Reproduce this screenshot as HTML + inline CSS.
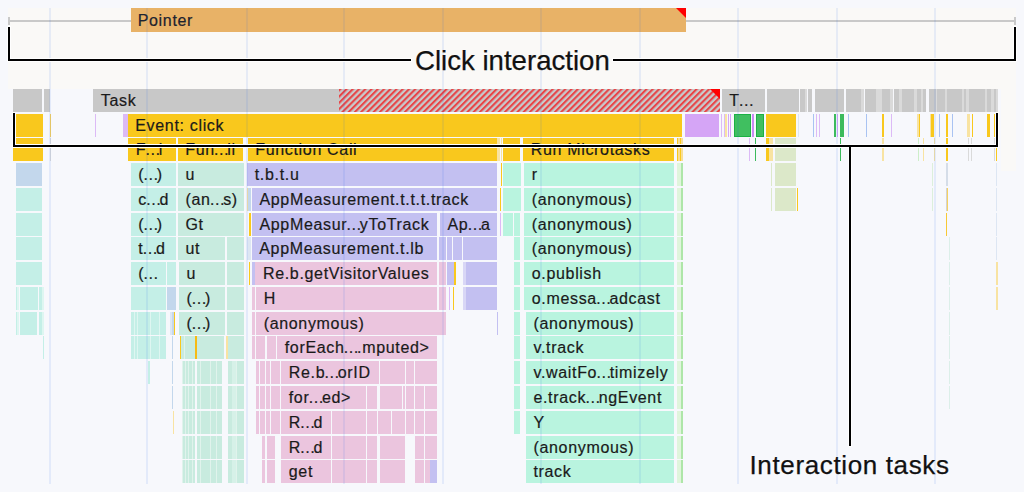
<!DOCTYPE html>
<html><head><meta charset="utf-8"><style>
*{margin:0;padding:0;box-sizing:border-box}
html,body{width:1024px;height:492px;overflow:hidden;background:#f7f8fc}
body{position:relative;font-family:"Liberation Sans",Arial,sans-serif}
.a{position:absolute}
.b{position:absolute;height:23px;font-size:16px;letter-spacing:.67px;color:#1a1a1a;line-height:24px;padding-left:7.75px;white-space:nowrap;overflow:hidden;-webkit-text-stroke:.2px #1a1a1a}
.gl{position:absolute;top:8px;width:2px;height:476px;background:rgba(30,100,230,.09)}
.wt{position:absolute;background:#000;box-shadow:0 0 0 1px #fff}
i{font-style:normal;letter-spacing:-2px;margin-left:-1.5px}
.lbl{position:absolute;font-size:27px;color:#111;white-space:nowrap;line-height:30px;-webkit-text-stroke:.25px #111}
</style></head><body>
<!-- interaction track bg -->
<div class="a" style="left:8px;top:8px;width:1008px;height:80.5px;background:#faf9f7"></div>
<div class="a" style="left:1001px;top:88px;width:14.5px;height:82.5px;background:#faf9f7"></div>

<!-- Pointer interaction -->
<div class="a" style="left:9px;top:19.6px;width:1006px;height:2px;background:#c9c9c9"></div>
<div class="a" style="left:8px;top:16.7px;width:2px;height:8px;background:#c9c9c9"></div>
<div class="a" style="left:1014px;top:16.7px;width:2px;height:8px;background:#c9c9c9"></div>
<div class="b" style="left:130.5px;top:8.2px;height:23.4px;width:555.5px;background:#e8b267;color:#1d2433;padding-left:7.2px;line-height:26px">Pointer</div>
<div class="a" style="left:676px;top:8.2px;width:0;height:0;border-top:10px solid #f00;border-left:10px solid transparent"></div>

<div class="a" style="left:12.70px;top:88.75px;width:29.30px;background:#c8c8c8;height:23px"></div>
<div class="a" style="left:43.60px;top:88.75px;width:6.00px;background:#c8c8c8;height:23px"></div>
<div class="b" style="left:93.00px;top:88.75px;width:246.00px;background:#c8c8c8">Task</div>
<div class="b" style="left:721.50px;top:88.75px;width:43.50px;background:#c8c8c8">T<i>…</i></div>
<div class="a" style="left:766.90px;top:88.75px;width:31.85px;background:#c8c8c8;height:23px"></div>
<div class="a" style="left:800.25px;top:88.75px;width:4.75px;background:#c8c8c8;height:23px"></div>
<div class="a" style="left:808.30px;top:88.75px;width:3.50px;background:#c8c8c8;height:23px"></div>
<div class="a" style="left:814.60px;top:88.75px;width:29.60px;background:#c8c8c8;height:23px"></div>
<div class="a" style="left:845.50px;top:88.75px;width:15.50px;background:#c8c8c8;height:23px"></div>
<div class="a" style="left:864.60px;top:88.75px;width:11.40px;background:#c8c8c8;height:23px"></div>
<div class="a" style="left:882.00px;top:88.75px;width:8.40px;background:#c8c8c8;height:23px"></div>
<div class="a" style="left:893.60px;top:88.75px;width:5.40px;background:#c8c8c8;height:23px"></div>
<div class="a" style="left:902.00px;top:88.75px;width:12.00px;background:#c8c8c8;height:23px"></div>
<div class="a" style="left:917.00px;top:88.75px;width:4.00px;background:#c8c8c8;height:23px"></div>
<div class="a" style="left:923.00px;top:88.75px;width:3.00px;background:#c8c8c8;height:23px"></div>
<div class="a" style="left:928.50px;top:88.75px;width:7.00px;background:#c8c8c8;height:23px"></div>
<div class="a" style="left:937.00px;top:88.75px;width:8.00px;background:#c8c8c8;height:23px"></div>
<div class="a" style="left:946.50px;top:88.75px;width:15.50px;background:#c8c8c8;height:23px"></div>
<div class="a" style="left:963.50px;top:88.75px;width:2.50px;background:#c8c8c8;height:23px"></div>
<div class="a" style="left:969.00px;top:88.75px;width:16.00px;background:#c8c8c8;height:23px"></div>
<div class="a" style="left:987.00px;top:88.75px;width:4.00px;background:#c8c8c8;height:23px"></div>
<div class="a" style="left:994.00px;top:88.75px;width:2.00px;background:#c8c8c8;height:23px"></div>
<div class="a" style="left:805.00px;top:88.75px;width:2.00px;background:#dadada;height:23px"></div>
<div class="a" style="left:861.00px;top:88.75px;width:3.00px;background:#dadada;height:23px"></div>
<div class="a" style="left:876.00px;top:88.75px;width:3.00px;background:#dadada;height:23px"></div>
<div class="a" style="left:879.00px;top:88.75px;width:3.00px;background:#dadada;height:23px"></div>
<div class="a" style="left:890.40px;top:88.75px;width:2.60px;background:#dadada;height:23px"></div>
<div class="a" style="left:899.00px;top:88.75px;width:3.00px;background:#dadada;height:23px"></div>
<div class="a" style="left:914.00px;top:88.75px;width:3.00px;background:#dadada;height:23px"></div>
<div class="a" style="left:921.00px;top:88.75px;width:2.00px;background:#dadada;height:23px"></div>
<div class="a" style="left:935.50px;top:88.75px;width:1.50px;background:#dadada;height:23px"></div>
<div class="a" style="left:945.00px;top:88.75px;width:1.50px;background:#dadada;height:23px"></div>
<div class="a" style="left:962.00px;top:88.75px;width:1.50px;background:#dadada;height:23px"></div>
<div class="a" style="left:966.00px;top:88.75px;width:3.00px;background:#dadada;height:23px"></div>
<div class="a" style="left:985.00px;top:88.75px;width:2.00px;background:#dadada;height:23px"></div>
<div class="a" style="left:991.00px;top:88.75px;width:3.00px;background:#dadada;height:23px"></div>
<div class="a" style="left:996.00px;top:88.75px;width:2.00px;background:#dadada;height:23px"></div>
<div class="a" style="left:12.70px;top:113.52px;width:29.90px;background:#f9c81d;height:23px"></div>
<div class="a" style="left:50.20px;top:113.52px;width:1.00px;background:#f7cf5a;height:23px"></div>
<div class="a" style="left:94.50px;top:113.52px;width:1.00px;background:#dcbaf6;height:23px"></div>
<div class="a" style="left:123.25px;top:113.52px;width:4.25px;background:#dcbaf6;height:23px"></div>
<div class="b" style="left:127.50px;top:113.52px;width:554.90px;background:#f9c81d">Event: click</div>
<div class="a" style="left:685.00px;top:113.52px;width:33.75px;background:#d5a5f6;height:23px"></div>
<div class="a" style="left:721.25px;top:113.52px;width:1.00px;background:#dcbaf6;height:23px"></div>
<div class="a" style="left:724.00px;top:113.52px;width:1.00px;background:#dcbaf6;height:23px"></div>
<div class="a" style="left:725.25px;top:113.52px;width:1.75px;background:#f8e3a2;height:23px"></div>
<div class="a" style="left:727.50px;top:113.52px;width:1.00px;background:#d5a5f6;height:23px"></div>
<div class="a" style="left:730.00px;top:113.52px;width:1.00px;background:#d5a5f6;height:23px"></div>
<div class="a" style="left:734.10px;top:113.52px;width:16.90px;background:#40bf60;border:1px solid #1bb144;height:23px"></div>
<div class="a" style="left:751.80px;top:113.52px;width:2.00px;background:#c98af5;height:23px"></div>
<div class="a" style="left:756.10px;top:113.52px;width:7.70px;background:#40bf60;border:1px solid #1bb144;height:23px"></div>
<div class="a" style="left:766.25px;top:113.52px;width:30.00px;background:#f9c81d;height:23px"></div>
<div class="a" style="left:797.50px;top:113.52px;width:1.00px;background:#dde6f3;height:23px"></div>
<div class="a" style="left:813.00px;top:113.52px;width:1.00px;background:#a9c3f2;height:23px"></div>
<div class="a" style="left:815.60px;top:113.52px;width:1.00px;background:#dcbaf6;height:23px"></div>
<div class="a" style="left:819.00px;top:113.52px;width:1.00px;background:#dcbaf6;height:23px"></div>
<div class="a" style="left:833.50px;top:113.52px;width:2.00px;background:#3cba5c;height:23px"></div>
<div class="a" style="left:836.50px;top:113.52px;width:1.50px;background:#d5a5f6;height:23px"></div>
<div class="a" style="left:839.50px;top:113.52px;width:4.50px;background:#3cba5c;height:23px"></div>
<div class="a" style="left:848.00px;top:113.52px;width:1.00px;background:#a9c3f2;height:23px"></div>
<div class="a" style="left:865.80px;top:113.52px;width:1.00px;background:#a9c3f2;height:23px"></div>
<div class="a" style="left:881.50px;top:113.52px;width:2.00px;background:#f9c81d;height:23px"></div>
<div class="a" style="left:890.60px;top:113.52px;width:1.00px;background:#dcbaf6;height:23px"></div>
<div class="a" style="left:917.00px;top:113.52px;width:1.80px;background:#f8e3a2;height:23px"></div>
<div class="a" style="left:918.80px;top:113.52px;width:1.50px;background:#f9c81d;height:23px"></div>
<div class="a" style="left:929.50px;top:113.52px;width:1.50px;background:#f8e3a2;height:23px"></div>
<div class="a" style="left:931.00px;top:113.52px;width:3.00px;background:#f9c81d;height:23px"></div>
<div class="a" style="left:938.50px;top:113.52px;width:1.00px;background:#a9c3f2;height:23px"></div>
<div class="a" style="left:945.50px;top:113.52px;width:2.50px;background:#f9c81d;height:23px"></div>
<div class="a" style="left:952.00px;top:113.52px;width:1.00px;background:#a9c3f2;height:23px"></div>
<div class="a" style="left:967.00px;top:113.52px;width:3.00px;background:#f8e3a2;height:23px"></div>
<div class="a" style="left:971.50px;top:113.52px;width:1.00px;background:#f9c81d;height:23px"></div>
<div class="a" style="left:986.50px;top:113.52px;width:3.50px;background:#f9c81d;height:23px"></div>
<div class="a" style="left:993.50px;top:113.52px;width:1.50px;background:#f9c81d;height:23px"></div>
<div class="a" style="left:12.70px;top:138.29px;width:29.90px;background:#f9c81d;height:23px"></div>
<div class="a" style="left:50.00px;top:138.29px;width:1.00px;background:#dadada;height:23px"></div>
<div class="b" style="left:128.00px;top:138.29px;width:47.75px;background:#f9c81d">F<i>…</i>l</div>
<div class="b" style="left:177.50px;top:138.29px;width:65.50px;background:#f9c81d">Fun<i>…</i>ll</div>
<div class="b" style="left:247.50px;top:138.29px;width:249.60px;background:#f9c81d">Function Call</div>
<div class="a" style="left:497.10px;top:138.29px;width:3.20px;background:#f8e3a2;height:23px"></div>
<div class="a" style="left:500.60px;top:138.29px;width:1.80px;background:#f8e3a2;height:23px"></div>
<div class="a" style="left:502.70px;top:138.29px;width:17.80px;background:#f9c81d;height:23px"></div>
<div class="b" style="left:523.00px;top:138.29px;width:150.75px;background:#f9c81d">Run Microtasks</div>
<div class="a" style="left:676.70px;top:138.29px;width:6.30px;background:#f8de95;height:23px"></div>
<div class="a" style="left:677.30px;top:138.29px;width:1.20px;background:#f9c81d;height:23px"></div>
<div class="a" style="left:679.80px;top:138.29px;width:1.20px;background:#f9c81d;height:23px"></div>
<div class="a" style="left:748.75px;top:138.29px;width:1.00px;background:#dcbaf6;height:23px"></div>
<div class="a" style="left:754.50px;top:138.29px;width:1.00px;background:#3cba5c;height:23px"></div>
<div class="a" style="left:766.30px;top:138.29px;width:2.60px;background:#f9c81d;height:23px"></div>
<div class="a" style="left:768.90px;top:138.29px;width:4.20px;background:#f8e3a2;height:23px"></div>
<div class="a" style="left:774.80px;top:138.29px;width:21.60px;background:#dce8c9;height:23px"></div>
<div class="a" style="left:839.70px;top:138.29px;width:1.00px;background:#3cba5c;height:23px"></div>
<div class="a" style="left:882.10px;top:138.29px;width:1.50px;background:#f8e3a2;height:23px"></div>
<div class="a" style="left:918.30px;top:138.29px;width:1.00px;background:#cdeec9;height:23px"></div>
<div class="a" style="left:922.80px;top:138.29px;width:1.50px;background:#f8e3a2;height:23px"></div>
<div class="a" style="left:934.20px;top:138.29px;width:1.00px;background:#f8e3a2;height:23px"></div>
<div class="a" style="left:946.00px;top:138.29px;width:2.00px;background:#f9c81d;height:23px"></div>
<div class="a" style="left:968.00px;top:138.29px;width:1.30px;background:#dadada;height:23px"></div>
<div class="a" style="left:971.00px;top:138.29px;width:1.30px;background:#dadada;height:23px"></div>
<div class="a" style="left:993.50px;top:138.29px;width:1.00px;background:#dadada;height:23px"></div>
<div class="a" style="left:995.70px;top:138.29px;width:1.50px;background:#f9c81d;height:23px"></div>
<div class="b" style="left:524.00px;top:163.06px;width:149.75px;background:#b9f4df">r</div>
<div class="a" style="left:676.70px;top:163.06px;width:4.30px;background:#e0f5dc;height:23px"></div>
<div class="a" style="left:681.00px;top:163.06px;width:1.60px;background:#aee6a8;height:23px"></div>
<div class="b" style="left:524.00px;top:187.83px;width:149.75px;background:#b9f4df">(anonymous)</div>
<div class="a" style="left:676.70px;top:187.83px;width:4.30px;background:#e0f5dc;height:23px"></div>
<div class="a" style="left:681.00px;top:187.83px;width:1.60px;background:#aee6a8;height:23px"></div>
<div class="b" style="left:524.00px;top:212.60px;width:149.75px;background:#b9f4df">(anonymous)</div>
<div class="a" style="left:676.70px;top:212.60px;width:4.30px;background:#e0f5dc;height:23px"></div>
<div class="a" style="left:681.00px;top:212.60px;width:1.60px;background:#aee6a8;height:23px"></div>
<div class="b" style="left:524.00px;top:237.37px;width:149.75px;background:#b9f4df">(anonymous)</div>
<div class="a" style="left:676.70px;top:237.37px;width:4.30px;background:#e0f5dc;height:23px"></div>
<div class="a" style="left:681.00px;top:237.37px;width:1.60px;background:#aee6a8;height:23px"></div>
<div class="b" style="left:524.00px;top:262.14px;width:149.75px;background:#b9f4df">o.publish</div>
<div class="a" style="left:676.70px;top:262.14px;width:4.30px;background:#e0f5dc;height:23px"></div>
<div class="a" style="left:681.00px;top:262.14px;width:1.60px;background:#aee6a8;height:23px"></div>
<div class="b" style="left:524.00px;top:286.91px;width:149.75px;background:#b9f4df">o.messa<i>…</i>adcast</div>
<div class="a" style="left:676.70px;top:286.91px;width:4.30px;background:#e0f5dc;height:23px"></div>
<div class="a" style="left:681.00px;top:286.91px;width:1.60px;background:#aee6a8;height:23px"></div>
<div class="b" style="left:525.70px;top:311.68px;width:148.05px;background:#b9f4df">(anonymous)</div>
<div class="a" style="left:676.70px;top:311.68px;width:4.30px;background:#e0f5dc;height:23px"></div>
<div class="a" style="left:681.00px;top:311.68px;width:1.60px;background:#aee6a8;height:23px"></div>
<div class="b" style="left:525.70px;top:336.45px;width:148.05px;background:#b9f4df">v.track</div>
<div class="a" style="left:676.70px;top:336.45px;width:4.30px;background:#e0f5dc;height:23px"></div>
<div class="a" style="left:681.00px;top:336.45px;width:1.60px;background:#aee6a8;height:23px"></div>
<div class="b" style="left:525.70px;top:361.22px;width:148.05px;background:#b9f4df">v.waitFo<i>…</i>timizely</div>
<div class="a" style="left:676.70px;top:361.22px;width:4.30px;background:#e0f5dc;height:23px"></div>
<div class="a" style="left:681.00px;top:361.22px;width:1.60px;background:#aee6a8;height:23px"></div>
<div class="b" style="left:525.70px;top:385.99px;width:148.05px;background:#b9f4df">e.track<i>…</i>ngEvent</div>
<div class="a" style="left:676.70px;top:385.99px;width:4.30px;background:#e0f5dc;height:23px"></div>
<div class="a" style="left:681.00px;top:385.99px;width:1.60px;background:#aee6a8;height:23px"></div>
<div class="b" style="left:525.70px;top:410.76px;width:148.05px;background:#b9f4df">Y</div>
<div class="a" style="left:676.70px;top:410.76px;width:4.30px;background:#e0f5dc;height:23px"></div>
<div class="a" style="left:681.00px;top:410.76px;width:1.60px;background:#aee6a8;height:23px"></div>
<div class="b" style="left:525.70px;top:435.53px;width:148.05px;background:#b9f4df">(anonymous)</div>
<div class="a" style="left:676.70px;top:435.53px;width:4.30px;background:#e0f5dc;height:23px"></div>
<div class="a" style="left:681.00px;top:435.53px;width:1.60px;background:#aee6a8;height:23px"></div>
<div class="b" style="left:525.70px;top:460.30px;width:148.05px;background:#b9f4df">track</div>
<div class="a" style="left:676.70px;top:460.30px;width:4.30px;background:#e0f5dc;height:23px"></div>
<div class="a" style="left:681.00px;top:460.30px;width:1.60px;background:#aee6a8;height:23px"></div>
<div class="a" style="left:502.50px;top:163.06px;width:18.00px;background:#b9f4df;height:23px"></div>
<div class="a" style="left:502.50px;top:187.83px;width:18.00px;background:#b9f4df;height:23px"></div>
<div class="a" style="left:502.50px;top:212.60px;width:10.90px;background:#b9f4df;height:23px"></div>
<div class="a" style="left:514.40px;top:212.60px;width:6.10px;background:#b9f4df;height:23px"></div>
<div class="a" style="left:514.40px;top:237.37px;width:6.10px;background:#b9f4df;height:23px"></div>
<div class="a" style="left:514.40px;top:262.14px;width:6.10px;background:#b9f4df;height:23px"></div>
<div class="a" style="left:514.40px;top:286.91px;width:6.10px;background:#b9f4df;height:23px"></div>
<div class="a" style="left:514.40px;top:311.68px;width:6.10px;background:#b9f4df;height:23px"></div>
<div class="a" style="left:514.40px;top:336.45px;width:6.10px;background:#b9f4df;height:23px"></div>
<div class="a" style="left:514.40px;top:361.22px;width:6.10px;background:#b9f4df;height:23px"></div>
<div class="a" style="left:514.40px;top:385.99px;width:6.10px;background:#b9f4df;height:23px"></div>
<div class="a" style="left:514.40px;top:410.76px;width:6.10px;background:#b9f4df;height:23px"></div>
<div class="a" style="left:501.00px;top:163.06px;width:1.00px;background:#f9c81d;height:23px"></div>
<div class="a" style="left:499.60px;top:187.83px;width:1.40px;background:#f9c81d;height:23px"></div>
<div class="a" style="left:499.50px;top:212.60px;width:1.00px;background:#dcbaf6;height:23px"></div>
<div class="a" style="left:15.75px;top:163.06px;width:26.50px;background:#c3d7ec;height:23px"></div>
<div class="a" style="left:15.75px;top:187.83px;width:26.50px;background:#c4efe7;height:23px"></div>
<div class="a" style="left:15.75px;top:212.60px;width:26.50px;background:#c4efe7;height:23px"></div>
<div class="a" style="left:15.75px;top:237.37px;width:26.50px;background:#c4efe7;height:23px"></div>
<div class="a" style="left:15.75px;top:262.14px;width:26.50px;background:#c4efe7;height:23px"></div>
<div class="a" style="left:15.60px;top:286.91px;width:1.60px;background:#c4efe7;height:23px"></div>
<div class="a" style="left:17.20px;top:286.91px;width:2.30px;background:#def6f1;height:23px"></div>
<div class="a" style="left:19.50px;top:286.91px;width:18.50px;background:#c4efe7;height:23px"></div>
<div class="a" style="left:38.80px;top:286.91px;width:3.50px;background:#c4efe7;height:23px"></div>
<div class="a" style="left:42.30px;top:286.91px;width:1.70px;background:#def6f1;height:23px"></div>
<div class="a" style="left:15.60px;top:311.68px;width:1.60px;background:#c4efe7;height:23px"></div>
<div class="a" style="left:17.20px;top:311.68px;width:2.30px;background:#def6f1;height:23px"></div>
<div class="a" style="left:19.50px;top:311.68px;width:17.00px;background:#c4efe7;height:23px"></div>
<div class="a" style="left:38.50px;top:311.68px;width:3.80px;background:#c4efe7;height:23px"></div>
<div class="a" style="left:42.30px;top:311.68px;width:1.70px;background:#def6f1;height:23px"></div>
<div class="a" style="left:43.00px;top:336.45px;width:1.00px;background:#c4efe7;height:23px"></div>
<div class="b" style="left:130.50px;top:163.06px;width:45.50px;background:#c4efe7">(<i>…</i>)</div>
<div class="b" style="left:130.50px;top:187.83px;width:45.50px;background:#c4efe7">c<i>…</i>d</div>
<div class="b" style="left:130.50px;top:212.60px;width:45.50px;background:#c4efe7">(<i>…</i>)</div>
<div class="b" style="left:130.50px;top:237.37px;width:45.50px;background:#c4efe7">t<i>…</i>d</div>
<div class="b" style="left:130.50px;top:262.14px;width:35.50px;background:#c4efe7">(<i>…</i></div>
<div class="a" style="left:167.25px;top:262.14px;width:8.75px;background:#c4efe7;height:23px"></div>
<div class="a" style="left:130.50px;top:286.91px;width:35.50px;background:#c4efe7;height:23px"></div>
<div class="a" style="left:167.25px;top:286.91px;width:8.75px;background:#c3d7ec;height:23px"></div>
<div class="a" style="left:130.60px;top:311.68px;width:35.80px;background:#c4efe7;height:23px"></div>
<div class="a" style="left:134.00px;top:311.68px;width:0.90px;background:#def6f1;height:23px"></div>
<div class="a" style="left:137.40px;top:311.68px;width:0.90px;background:#def6f1;height:23px"></div>
<div class="a" style="left:150.00px;top:311.68px;width:0.90px;background:#def6f1;height:23px"></div>
<div class="a" style="left:159.00px;top:311.68px;width:0.90px;background:#def6f1;height:23px"></div>
<div class="a" style="left:130.60px;top:336.45px;width:35.80px;background:#c4efe7;height:23px"></div>
<div class="a" style="left:134.00px;top:336.45px;width:0.90px;background:#def6f1;height:23px"></div>
<div class="a" style="left:137.40px;top:336.45px;width:0.90px;background:#def6f1;height:23px"></div>
<div class="a" style="left:150.00px;top:336.45px;width:0.90px;background:#def6f1;height:23px"></div>
<div class="a" style="left:159.00px;top:336.45px;width:0.90px;background:#def6f1;height:23px"></div>
<div class="a" style="left:169.80px;top:311.68px;width:2.20px;background:#dde6f3;height:23px"></div>
<div class="a" style="left:172.00px;top:311.68px;width:1.80px;background:#c3d7ec;height:23px"></div>
<div class="a" style="left:174.40px;top:311.68px;width:1.10px;background:#f9c81d;height:23px"></div>
<div class="a" style="left:171.60px;top:336.45px;width:1.70px;background:#c3d7ec;height:23px"></div>
<div class="a" style="left:147.50px;top:361.22px;width:2.00px;background:#c4efe7;height:23px"></div>
<div class="a" style="left:171.90px;top:361.22px;width:1.50px;background:#c3d7ec;height:23px"></div>
<div class="a" style="left:171.90px;top:385.99px;width:1.50px;background:#c3d7ec;height:23px"></div>
<div class="a" style="left:172.50px;top:410.76px;width:1.50px;background:#f8e3a2;height:23px"></div>
<div class="b" style="left:177.75px;top:163.06px;width:65.75px;background:#c8ebdf">u</div>
<div class="b" style="left:177.75px;top:187.83px;width:65.75px;background:#c8ebdf">(an<i>…</i>s)</div>
<div class="b" style="left:177.75px;top:212.60px;width:65.75px;background:#c8ebdf">Gt</div>
<div class="b" style="left:177.75px;top:237.37px;width:46.75px;background:#c8ebdf">ut</div>
<div class="a" style="left:227.00px;top:237.37px;width:16.50px;background:#c8ebdf;height:23px"></div>
<div class="b" style="left:178.75px;top:262.14px;width:45.75px;background:#c8ebdf">u</div>
<div class="a" style="left:227.00px;top:262.14px;width:16.50px;background:#c8ebdf;height:23px"></div>
<div class="b" style="left:178.75px;top:286.91px;width:45.75px;background:#c8ebdf">(<i>…</i>)</div>
<div class="a" style="left:227.00px;top:286.91px;width:16.50px;background:#c8ebdf;height:23px"></div>
<div class="b" style="left:178.75px;top:311.68px;width:45.75px;background:#c8ebdf">(<i>…</i>)</div>
<div class="a" style="left:227.00px;top:311.68px;width:16.50px;background:#c8ebdf;height:23px"></div>
<div class="a" style="left:180.10px;top:336.45px;width:1.10px;background:#f9c81d;height:23px"></div>
<div class="a" style="left:181.20px;top:336.45px;width:13.70px;background:#c8ebdf;height:23px"></div>
<div class="a" style="left:184.00px;top:336.45px;width:1.00px;background:#e0f3ec;height:23px"></div>
<div class="a" style="left:194.90px;top:336.45px;width:2.30px;background:#f7bb13;height:23px"></div>
<div class="a" style="left:197.20px;top:336.45px;width:27.30px;background:#c8ebdf;height:23px"></div>
<div class="a" style="left:225.60px;top:336.45px;width:2.00px;background:#f8e3a2;height:23px"></div>
<div class="a" style="left:228.00px;top:336.45px;width:15.50px;background:#c8ebdf;height:23px"></div>
<div class="a" style="left:181.50px;top:361.22px;width:13.50px;background:#c8ebdf;height:23px"></div>
<div class="a" style="left:197.00px;top:361.22px;width:24.80px;background:#c8ebdf;height:23px"></div>
<div class="a" style="left:228.00px;top:361.22px;width:16.00px;background:#c8ebdf;height:23px"></div>
<div class="a" style="left:181.50px;top:361.22px;width:0.80px;background:#e0f3ec;height:23px"></div>
<div class="a" style="left:184.50px;top:361.22px;width:0.80px;background:#e0f3ec;height:23px"></div>
<div class="a" style="left:188.00px;top:361.22px;width:0.80px;background:#e0f3ec;height:23px"></div>
<div class="a" style="left:192.00px;top:361.22px;width:0.80px;background:#e0f3ec;height:23px"></div>
<div class="a" style="left:200.00px;top:361.22px;width:0.80px;background:#e0f3ec;height:23px"></div>
<div class="a" style="left:210.00px;top:361.22px;width:0.80px;background:#e0f3ec;height:23px"></div>
<div class="a" style="left:215.70px;top:361.22px;width:0.80px;background:#e0f3ec;height:23px"></div>
<div class="a" style="left:236.00px;top:361.22px;width:0.80px;background:#e0f3ec;height:23px"></div>
<div class="a" style="left:232.00px;top:361.22px;width:4.00px;background:#d6f1e8;height:23px"></div>
<div class="a" style="left:181.50px;top:385.99px;width:13.50px;background:#c8ebdf;height:23px"></div>
<div class="a" style="left:197.00px;top:385.99px;width:24.80px;background:#c8ebdf;height:23px"></div>
<div class="a" style="left:228.00px;top:385.99px;width:16.00px;background:#c8ebdf;height:23px"></div>
<div class="a" style="left:181.50px;top:385.99px;width:0.80px;background:#e0f3ec;height:23px"></div>
<div class="a" style="left:184.50px;top:385.99px;width:0.80px;background:#e0f3ec;height:23px"></div>
<div class="a" style="left:188.00px;top:385.99px;width:0.80px;background:#e0f3ec;height:23px"></div>
<div class="a" style="left:192.00px;top:385.99px;width:0.80px;background:#e0f3ec;height:23px"></div>
<div class="a" style="left:200.00px;top:385.99px;width:0.80px;background:#e0f3ec;height:23px"></div>
<div class="a" style="left:210.00px;top:385.99px;width:0.80px;background:#e0f3ec;height:23px"></div>
<div class="a" style="left:215.70px;top:385.99px;width:0.80px;background:#e0f3ec;height:23px"></div>
<div class="a" style="left:236.00px;top:385.99px;width:0.80px;background:#e0f3ec;height:23px"></div>
<div class="a" style="left:232.00px;top:385.99px;width:4.00px;background:#d6f1e8;height:23px"></div>
<div class="a" style="left:181.50px;top:410.76px;width:13.50px;background:#c8ebdf;height:23px"></div>
<div class="a" style="left:197.00px;top:410.76px;width:24.80px;background:#c8ebdf;height:23px"></div>
<div class="a" style="left:228.00px;top:410.76px;width:16.00px;background:#c8ebdf;height:23px"></div>
<div class="a" style="left:181.50px;top:410.76px;width:0.80px;background:#e0f3ec;height:23px"></div>
<div class="a" style="left:184.50px;top:410.76px;width:0.80px;background:#e0f3ec;height:23px"></div>
<div class="a" style="left:188.00px;top:410.76px;width:0.80px;background:#e0f3ec;height:23px"></div>
<div class="a" style="left:192.00px;top:410.76px;width:0.80px;background:#e0f3ec;height:23px"></div>
<div class="a" style="left:200.00px;top:410.76px;width:0.80px;background:#e0f3ec;height:23px"></div>
<div class="a" style="left:210.00px;top:410.76px;width:0.80px;background:#e0f3ec;height:23px"></div>
<div class="a" style="left:215.70px;top:410.76px;width:0.80px;background:#e0f3ec;height:23px"></div>
<div class="a" style="left:236.00px;top:410.76px;width:0.80px;background:#e0f3ec;height:23px"></div>
<div class="a" style="left:232.00px;top:410.76px;width:4.00px;background:#d6f1e8;height:23px"></div>
<div class="a" style="left:181.50px;top:435.53px;width:13.50px;background:#c8ebdf;height:23px"></div>
<div class="a" style="left:197.00px;top:435.53px;width:24.80px;background:#c8ebdf;height:23px"></div>
<div class="a" style="left:228.00px;top:435.53px;width:16.00px;background:#c8ebdf;height:23px"></div>
<div class="a" style="left:181.50px;top:435.53px;width:0.80px;background:#e0f3ec;height:23px"></div>
<div class="a" style="left:184.50px;top:435.53px;width:0.80px;background:#e0f3ec;height:23px"></div>
<div class="a" style="left:188.00px;top:435.53px;width:0.80px;background:#e0f3ec;height:23px"></div>
<div class="a" style="left:192.00px;top:435.53px;width:0.80px;background:#e0f3ec;height:23px"></div>
<div class="a" style="left:200.00px;top:435.53px;width:0.80px;background:#e0f3ec;height:23px"></div>
<div class="a" style="left:210.00px;top:435.53px;width:0.80px;background:#e0f3ec;height:23px"></div>
<div class="a" style="left:215.70px;top:435.53px;width:0.80px;background:#e0f3ec;height:23px"></div>
<div class="a" style="left:236.00px;top:435.53px;width:0.80px;background:#e0f3ec;height:23px"></div>
<div class="a" style="left:232.00px;top:435.53px;width:4.00px;background:#d6f1e8;height:23px"></div>
<div class="a" style="left:181.50px;top:460.30px;width:13.50px;background:#c8ebdf;height:23px"></div>
<div class="a" style="left:197.00px;top:460.30px;width:24.80px;background:#c8ebdf;height:23px"></div>
<div class="a" style="left:228.00px;top:460.30px;width:16.00px;background:#c8ebdf;height:23px"></div>
<div class="a" style="left:181.50px;top:460.30px;width:0.80px;background:#e0f3ec;height:23px"></div>
<div class="a" style="left:184.50px;top:460.30px;width:0.80px;background:#e0f3ec;height:23px"></div>
<div class="a" style="left:188.00px;top:460.30px;width:0.80px;background:#e0f3ec;height:23px"></div>
<div class="a" style="left:192.00px;top:460.30px;width:0.80px;background:#e0f3ec;height:23px"></div>
<div class="a" style="left:200.00px;top:460.30px;width:0.80px;background:#e0f3ec;height:23px"></div>
<div class="a" style="left:210.00px;top:460.30px;width:0.80px;background:#e0f3ec;height:23px"></div>
<div class="a" style="left:215.70px;top:460.30px;width:0.80px;background:#e0f3ec;height:23px"></div>
<div class="a" style="left:236.00px;top:460.30px;width:0.80px;background:#e0f3ec;height:23px"></div>
<div class="a" style="left:232.00px;top:460.30px;width:4.00px;background:#d6f1e8;height:23px"></div>
<div class="b" style="left:247.00px;top:163.06px;width:250.25px;background:#c3c0f1">t.b.t.u</div>
<div class="a" style="left:247.10px;top:187.83px;width:1.30px;background:#f8e3a2;height:23px"></div>
<div class="a" style="left:248.40px;top:187.83px;width:2.60px;background:#c3d7ec;height:23px"></div>
<div class="b" style="left:251.70px;top:187.83px;width:245.55px;background:#c3c0f1">AppMeasurement.t.t.t.track</div>
<div class="a" style="left:248.70px;top:212.60px;width:2.30px;background:#f9c81d;height:23px"></div>
<div class="b" style="left:251.70px;top:212.60px;width:185.55px;background:#c3c0f1">AppMeasur<i>…</i>yToTrack</div>
<div class="b" style="left:439.75px;top:212.60px;width:57.50px;background:#c3c0f1">Ap<i>…</i>a</div>
<div class="a" style="left:247.00px;top:237.37px;width:4.00px;background:#dde6f3;height:23px"></div>
<div class="b" style="left:251.50px;top:237.37px;width:185.75px;background:#c3c0f1">AppMeasurement.t.lb</div>
<div class="a" style="left:438.50px;top:237.37px;width:7.00px;background:#c3c0f1;height:23px"></div>
<div class="a" style="left:446.50px;top:237.37px;width:5.00px;background:#c3c0f1;height:23px"></div>
<div class="a" style="left:452.50px;top:237.37px;width:9.50px;background:#c3c0f1;height:23px"></div>
<div class="a" style="left:463.00px;top:237.37px;width:34.25px;background:#c3c0f1;height:23px"></div>
<div class="a" style="left:248.50px;top:262.14px;width:1.60px;background:#f9c81d;height:23px"></div>
<div class="a" style="left:251.60px;top:262.14px;width:3.60px;background:#c3c0f1;height:23px"></div>
<div class="b" style="left:255.20px;top:262.14px;width:182.30px;background:#ebc5de">Re.b.getVisitorValues</div>
<div class="a" style="left:438.50px;top:262.14px;width:7.50px;background:#ebc5de;height:23px"></div>
<div class="a" style="left:447.00px;top:262.14px;width:6.50px;background:#c3c0f1;height:23px"></div>
<div class="a" style="left:454.00px;top:262.14px;width:1.50px;background:#f9c81d;height:23px"></div>
<div class="a" style="left:462.50px;top:262.14px;width:3.50px;background:#d9d7f6;height:23px"></div>
<div class="a" style="left:466.00px;top:262.14px;width:31.25px;background:#c3c0f1;height:23px"></div>
<div class="a" style="left:251.60px;top:286.91px;width:3.60px;background:#ebc5de;height:23px"></div>
<div class="b" style="left:255.90px;top:286.91px;width:181.60px;background:#ebc5de">H</div>
<div class="a" style="left:438.50px;top:286.91px;width:7.50px;background:#ebc5de;height:23px"></div>
<div class="a" style="left:448.50px;top:286.91px;width:1.00px;background:#dcbaf6;height:23px"></div>
<div class="a" style="left:452.50px;top:286.91px;width:1.50px;background:#f9c81d;height:23px"></div>
<div class="a" style="left:462.50px;top:286.91px;width:3.50px;background:#d9d7f6;height:23px"></div>
<div class="a" style="left:466.00px;top:286.91px;width:31.25px;background:#c3c0f1;height:23px"></div>
<div class="a" style="left:251.60px;top:311.68px;width:3.60px;background:#ebc5de;height:23px"></div>
<div class="b" style="left:255.90px;top:311.68px;width:190.35px;background:#ebc5de">(anonymous)</div>
<div class="a" style="left:497.00px;top:311.68px;width:1.00px;background:#c3c0f1;height:23px"></div>
<div class="a" style="left:251.60px;top:336.45px;width:3.60px;background:#ebc5de;height:23px"></div>
<div class="a" style="left:256.00px;top:336.45px;width:9.40px;background:#ebc5de;height:23px"></div>
<div class="a" style="left:266.80px;top:336.45px;width:9.20px;background:#ebc5de;height:23px"></div>
<div class="b" style="left:277.00px;top:336.45px;width:160.40px;background:#ebc5de">forEach<i>…</i>.mputed></div>
<div class="a" style="left:255.90px;top:361.22px;width:3.10px;background:#ebc5de;height:23px"></div>
<div class="a" style="left:260.00px;top:361.22px;width:5.00px;background:#ebc5de;height:23px"></div>
<div class="a" style="left:266.00px;top:361.22px;width:3.50px;background:#ebc5de;height:23px"></div>
<div class="a" style="left:270.50px;top:361.22px;width:9.50px;background:#ebc5de;height:23px"></div>
<div class="a" style="left:255.90px;top:385.99px;width:3.10px;background:#ebc5de;height:23px"></div>
<div class="a" style="left:260.00px;top:385.99px;width:5.00px;background:#ebc5de;height:23px"></div>
<div class="a" style="left:266.00px;top:385.99px;width:3.50px;background:#ebc5de;height:23px"></div>
<div class="a" style="left:270.50px;top:385.99px;width:9.50px;background:#ebc5de;height:23px"></div>
<div class="a" style="left:255.90px;top:410.76px;width:3.10px;background:#ebc5de;height:23px"></div>
<div class="a" style="left:260.00px;top:410.76px;width:5.00px;background:#ebc5de;height:23px"></div>
<div class="a" style="left:266.00px;top:410.76px;width:3.50px;background:#ebc5de;height:23px"></div>
<div class="a" style="left:270.50px;top:410.76px;width:9.50px;background:#ebc5de;height:23px"></div>
<div class="b" style="left:281.00px;top:361.22px;width:96.30px;background:#ebc5de">Re.b<i>…</i>orID</div>
<div class="a" style="left:377.30px;top:361.22px;width:2.20px;background:#ebc5de;height:23px"></div>
<div class="a" style="left:380.00px;top:361.22px;width:25.00px;background:#ebc5de;height:23px"></div>
<div class="a" style="left:406.00px;top:361.22px;width:7.90px;background:#ebc5de;height:23px"></div>
<div class="a" style="left:414.50px;top:361.22px;width:22.90px;background:#ebc5de;height:23px"></div>
<div class="b" style="left:281.00px;top:385.99px;width:85.00px;background:#ebc5de">for<i>…</i>ed></div>
<div class="a" style="left:366.50px;top:385.99px;width:10.80px;background:#ebc5de;height:23px"></div>
<div class="a" style="left:380.00px;top:385.99px;width:18.50px;background:#ebc5de;height:23px"></div>
<div class="a" style="left:399.00px;top:385.99px;width:3.00px;background:#ebc5de;height:23px"></div>
<div class="a" style="left:402.50px;top:385.99px;width:2.50px;background:#ebc5de;height:23px"></div>
<div class="a" style="left:406.00px;top:385.99px;width:7.90px;background:#ebc5de;height:23px"></div>
<div class="a" style="left:414.50px;top:385.99px;width:9.20px;background:#ebc5de;height:23px"></div>
<div class="a" style="left:424.50px;top:385.99px;width:12.90px;background:#ebc5de;height:23px"></div>
<div class="b" style="left:281.00px;top:410.76px;width:50.00px;background:#ebc5de">R<i>…</i>d</div>
<div class="a" style="left:332.00px;top:410.76px;width:34.00px;background:#ebc5de;height:23px"></div>
<div class="a" style="left:366.50px;top:410.76px;width:10.80px;background:#ebc5de;height:23px"></div>
<div class="a" style="left:378.00px;top:410.76px;width:13.00px;background:#ebc5de;height:23px"></div>
<div class="a" style="left:392.00px;top:410.76px;width:6.50px;background:#ebc5de;height:23px"></div>
<div class="a" style="left:399.00px;top:410.76px;width:6.00px;background:#ebc5de;height:23px"></div>
<div class="a" style="left:406.00px;top:410.76px;width:7.90px;background:#ebc5de;height:23px"></div>
<div class="a" style="left:414.50px;top:410.76px;width:5.20px;background:#ebc5de;height:23px"></div>
<div class="a" style="left:420.00px;top:410.76px;width:4.00px;background:#ebc5de;height:23px"></div>
<div class="a" style="left:424.50px;top:410.76px;width:12.90px;background:#ebc5de;height:23px"></div>
<div class="a" style="left:262.20px;top:435.53px;width:3.10px;background:#ebc5de;height:23px"></div>
<div class="a" style="left:266.50px;top:435.53px;width:8.50px;background:#ebc5de;height:23px"></div>
<div class="b" style="left:281.00px;top:435.53px;width:50.00px;background:#ebc5de">R<i>…</i>d</div>
<div class="a" style="left:332.00px;top:435.53px;width:34.00px;background:#ebc5de;height:23px"></div>
<div class="a" style="left:366.50px;top:435.53px;width:10.80px;background:#ebc5de;height:23px"></div>
<div class="a" style="left:379.50px;top:435.53px;width:25.50px;background:#ebc5de;height:23px"></div>
<div class="a" style="left:414.50px;top:435.53px;width:5.20px;background:#ebc5de;height:23px"></div>
<div class="a" style="left:420.00px;top:435.53px;width:4.00px;background:#ebc5de;height:23px"></div>
<div class="a" style="left:262.20px;top:460.30px;width:3.10px;background:#ebc5de;height:23px"></div>
<div class="a" style="left:266.50px;top:460.30px;width:8.50px;background:#ebc5de;height:23px"></div>
<div class="b" style="left:281.00px;top:460.30px;width:50.00px;background:#ebc5de">get</div>
<div class="a" style="left:332.00px;top:460.30px;width:34.00px;background:#ebc5de;height:23px"></div>
<div class="a" style="left:366.50px;top:460.30px;width:10.80px;background:#ebc5de;height:23px"></div>
<div class="a" style="left:379.50px;top:460.30px;width:25.50px;background:#ebc5de;height:23px"></div>
<div class="a" style="left:414.50px;top:460.30px;width:5.20px;background:#ebc5de;height:23px"></div>
<div class="a" style="left:420.00px;top:460.30px;width:4.00px;background:#ebc5de;height:23px"></div>
<div class="a" style="left:424.50px;top:435.53px;width:12.90px;background:#ebc5de;height:23px"></div>
<div class="a" style="left:424.50px;top:460.30px;width:5.00px;background:#ebc5de;height:23px"></div>
<div class="a" style="left:430.00px;top:460.30px;width:7.40px;background:#c3c0f1;height:23px"></div>
<div class="a" style="left:774.80px;top:163.06px;width:21.60px;background:#dce8c9;height:23px"></div>
<div class="a" style="left:774.80px;top:187.83px;width:21.60px;background:#dce8c9;height:23px"></div>
<div class="a" style="left:771.00px;top:163.06px;width:1.00px;background:#dce8c9;height:23px"></div>
<div class="a" style="left:771.00px;top:187.83px;width:1.00px;background:#dce8c9;height:23px"></div>
<div class="a" style="left:797.40px;top:187.83px;width:1.00px;background:#f9c81d;height:23px"></div>
<div class="a" style="left:931.50px;top:163.06px;width:1.00px;background:#dcefdc;height:23px"></div>
<div class="a" style="left:946.00px;top:163.06px;width:2.00px;background:#d5dde8;height:23px"></div>
<div class="a" style="left:995.70px;top:163.06px;width:1.00px;background:#dde6f3;height:23px"></div>
<div class="a" style="left:931.50px;top:187.83px;width:1.00px;background:#dcefdc;height:23px"></div>
<div class="a" style="left:946.00px;top:187.83px;width:1.00px;background:#d3d3d3;height:23px"></div>
<div class="a" style="left:947.00px;top:187.83px;width:1.30px;background:#f6d15f;height:23px"></div>
<div class="a" style="left:995.70px;top:187.83px;width:1.00px;background:#dde6f3;height:23px"></div>
<div class="a" style="left:945.80px;top:212.60px;width:1.50px;background:#f7c935;height:23px"></div>
<div class="a" style="left:995.70px;top:212.60px;width:1.00px;background:#dde6f3;height:23px"></div>
<div class="a" style="left:948.60px;top:237.37px;width:1.00px;background:#dcefe9;height:23px"></div>
<div class="a" style="left:948.60px;top:262.14px;width:1.00px;background:#dcefe9;height:23px"></div>
<div class="a" style="left:948.60px;top:286.91px;width:1.00px;background:#dcefe9;height:23px"></div>
<div class="a" style="left:948.60px;top:311.68px;width:1.00px;background:#dcefe9;height:23px"></div>
<div class="a" style="left:948.60px;top:336.45px;width:1.00px;background:#dcefe9;height:23px"></div>
<div class="a" style="left:948.60px;top:361.22px;width:1.00px;background:#dcefe9;height:23px"></div>
<div class="a" style="left:948.60px;top:385.99px;width:1.00px;background:#dcefe9;height:23px"></div>
<div class="a" style="left:996.00px;top:237.37px;width:1.00px;background:#dde6f3;height:23px"></div>
<div class="a" style="left:996.00px;top:262.14px;width:1.00px;background:#dde6f3;height:23px"></div>
<div class="a" style="left:996.00px;top:262.14px;width:1.50px;background:#f8e3a2;height:23px"></div>
<div class="a" style="left:996.00px;top:286.91px;width:1.50px;background:#f8e3a2;height:23px"></div>
<svg class="a" style="left:339px;top:88.75px" width="381.25" height="23"><defs><pattern id="h" width="4.42" height="10" patternUnits="userSpaceOnUse" patternTransform="rotate(45)"><rect width="4.42" height="10" fill="#c7cbcd"/><rect width="2.1" height="10" fill="#e84446"/></pattern></defs><rect width="381.25" height="23" fill="url(#h)"/></svg>
<div class="a" style="left:710.25px;top:88.75px;width:0;height:0;border-top:10px solid #f00;border-left:10px solid transparent"></div>

<!-- gridlines -->
<div class="gl" style="left:49px"></div>
<div class="gl" style="left:146px"></div>
<div class="gl" style="left:246px"></div>
<div class="gl" style="left:343px"></div>
<div class="gl" style="left:442px"></div>
<div class="gl" style="left:540px"></div>
<div class="gl" style="left:639px"></div>
<div class="gl" style="left:737px"></div>
<div class="gl" style="left:836px"></div>
<div class="gl" style="left:934px"></div>

<!-- annotations -->
<div class="a" style="left:7.0px;top:26.0px;width:4.0px;height:36.0px;background:#fff"></div>
<div class="a" style="left:1013.0px;top:26.0px;width:4.0px;height:36.0px;background:#fff"></div>
<div class="a" style="left:7.0px;top:58.0px;width:405.0px;height:4.0px;background:#fff"></div>
<div class="a" style="left:612.0px;top:58.0px;width:405.0px;height:4.0px;background:#fff"></div>
<div class="a" style="left:12.0px;top:112.0px;width:4.0px;height:36px;background:#fff"></div>
<div class="a" style="left:995.0px;top:112.0px;width:4.0px;height:36px;background:#fff"></div>
<div class="a" style="left:12.0px;top:144.0px;width:987.0px;height:4.0px;background:#fff"></div>
<div class="a" style="left:848.0px;top:146.0px;width:4.0px;height:300.5px;background:#fff"></div>
<div class="a" style="left:8.0px;top:27.0px;width:2.0px;height:34.0px;background:#000"></div>
<div class="a" style="left:1014.0px;top:27.0px;width:2.0px;height:34.0px;background:#000"></div>
<div class="a" style="left:8.0px;top:59.0px;width:403.0px;height:2.0px;background:#000"></div>
<div class="a" style="left:613.0px;top:59.0px;width:403.0px;height:2.0px;background:#000"></div>
<div class="a" style="left:13.0px;top:113.0px;width:2.0px;height:34px;background:#000"></div>
<div class="a" style="left:996.0px;top:113.0px;width:2.0px;height:34px;background:#000"></div>
<div class="a" style="left:13.0px;top:145.0px;width:985.0px;height:2.0px;background:#000"></div>
<div class="a" style="left:849.0px;top:147.0px;width:2.0px;height:298.5px;background:#000"></div>

<div class="lbl" style="left:415px;top:46px;font-size:27.6px">Click interaction</div>

<div class="lbl" style="left:749.5px;top:450px;font-size:26px;letter-spacing:.63px">Interaction tasks</div>
</body></html>
